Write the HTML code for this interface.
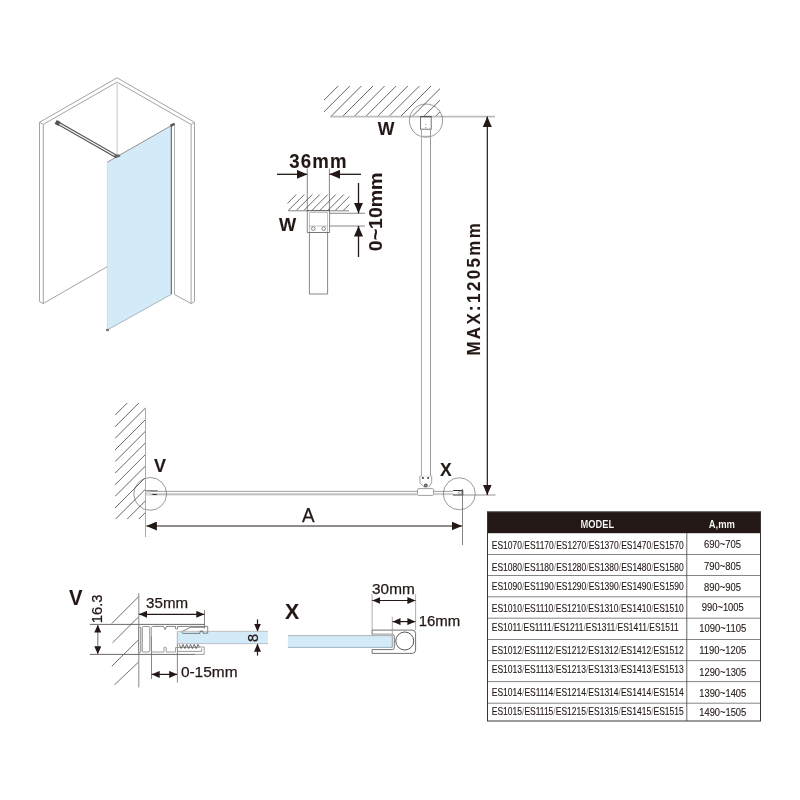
<!DOCTYPE html>
<html><head><meta charset="utf-8">
<style>
html,body{margin:0;padding:0;background:#fff;width:800px;height:800px;overflow:hidden}
svg{display:block;position:absolute;left:0;top:0;will-change:transform}
text{font-family:"Liberation Sans",sans-serif;fill:#231815;stroke:#231815;stroke-width:0.25px}
.b{font-weight:bold;stroke-width:0.1px}
.t{stroke-width:0.12px}
</style></head><body>
<svg width="800" height="800" viewBox="0 0 800 800">
<defs>
<marker id="ah" viewBox="0 0 10.5 9" refX="10.5" refY="4.5" markerWidth="10.5" markerHeight="9" markerUnits="userSpaceOnUse" orient="auto-start-reverse"><path d="M0,0 L10.5,4.5 L0,9 Z" fill="#231815"/></marker>
<clipPath id="cc1"><rect x="324" y="86" width="116" height="30.5"/></clipPath>
<clipPath id="cc2"><rect x="115" y="403" width="30.5" height="116"/></clipPath>
<clipPath id="cc3"><rect x="287.5" y="194.5" width="62" height="16.3"/></clipPath>
<marker id="ah2" viewBox="0 0 8 7" refX="8" refY="3.5" markerWidth="8" markerHeight="7" markerUnits="userSpaceOnUse" orient="auto-start-reverse"><path d="M0,0 L8,3.5 L0,7 Z" fill="#231815"/></marker>
</defs>

<!-- ============ ISOMETRIC ============ -->
<g fill="none" stroke="#999" stroke-width="0.9">
  <polyline points="39.5,301.5 39.5,122.3 117.1,77.8 194.5,122.3 194.5,301.5"/>
  <polyline points="39.5,122.3 43.3,124.4 117.1,82.1 191.1,124.5 194.5,122.3"/>
  <line x1="43.3" y1="124.4" x2="43.3" y2="303.5"/>
  <line x1="191.1" y1="124.5" x2="191.1" y2="303.5"/>
  <polyline points="39.5,301.5 43.3,303.5 107.5,266.5"/>
  <polyline points="174.5,294.5 191.1,303.5 194.5,301.5"/>
  <line x1="174.5" y1="125.5" x2="174.5" y2="294.5" stroke="#aaa"/>
</g>
<line x1="117.1" y1="82.1" x2="117.1" y2="156.5" stroke="#ccc" stroke-width="1.1"/>
<polygon points="107.3,162.2 171.3,125.6 171.3,294.3 107.3,330" fill="#d3ebf8"/>
<line x1="107.3" y1="162.2" x2="171.3" y2="125.6" stroke="#777" stroke-width="0.8"/>
<line x1="107.3" y1="162.2" x2="107.3" y2="330" stroke="#b8cfdc" stroke-width="0.6"/>
<line x1="171.3" y1="125.6" x2="171.3" y2="294.3" stroke="#555" stroke-width="1"/>
<line x1="107.3" y1="330" x2="171.3" y2="294.3" stroke="#8a9aa5" stroke-width="0.7"/>
<!-- rod -->
<line x1="57.5" y1="122.8" x2="116" y2="156.2" stroke="#4a4a4a" stroke-width="3.3" stroke-linecap="round"/>
<line x1="58.5" y1="123.4" x2="115" y2="155.6" stroke="#eaeaea" stroke-width="1.3"/>
<rect x="-2.2" y="-2.2" width="4.4" height="4.4" fill="#555" transform="translate(57.6,122.9) rotate(30)"/>
<path d="M114,154.5 L119.5,154.5 L120.5,156.5 L116,158 Z" fill="#666"/>
<ellipse cx="107.5" cy="330" rx="1.7" ry="1.3" fill="#777"/>
<path d="M170,124.5 L174.5,122.8 L175,125 L171,127 Z" fill="#555"/>

<!-- ============ W DETAIL ============ -->
<g clip-path="url(#cc3)" stroke="#444" stroke-width="0.8">
  <path d="M280,210.8 l30,-30 M288,210.8 l30,-30 M296,210.8 l30,-30 M303.5,210.8 l30,-30 M311.5,210.8 l30,-30 M319.5,210.8 l30,-30 M327.5,210.8 l30,-30 M335,210.8 l30,-30 M343,210.8 l30,-30"/>
</g>
<line x1="288" y1="210.8" x2="349" y2="210.8" stroke="#888" stroke-width="1"/>
<g fill="none" stroke="#555" stroke-width="0.7">
  <line x1="307.3" y1="168.5" x2="307.3" y2="210.5"/>
  <line x1="329.4" y1="168.5" x2="329.4" y2="210.5"/>
  <rect x="307.2" y="210.5" width="22.5" height="22"/>
  <rect x="309.5" y="212.5" width="18" height="20" stroke-dasharray="1,1"/>
  <line x1="309.5" y1="226" x2="327.5" y2="226" stroke-dasharray="1,1"/>
  <circle cx="313.3" cy="228.6" r="1.8"/>
  <circle cx="323.7" cy="228.6" r="1.8"/>
  <line x1="309.4" y1="232.5" x2="309.4" y2="294"/>
  <line x1="327.6" y1="232.5" x2="327.6" y2="294"/>
  <line x1="309.4" y1="294" x2="327.6" y2="294"/>
  <line x1="329.7" y1="213.3" x2="365" y2="213.3"/>
  <line x1="329.7" y1="226" x2="365" y2="226"/>
</g>
<g stroke="#231815" stroke-width="1.3" fill="none">
  <line x1="277" y1="174.3" x2="307.2" y2="174.3" marker-end="url(#ah)"/>
  <line x1="361" y1="174.3" x2="329.5" y2="174.3" marker-end="url(#ah)"/>
  <line x1="358.5" y1="183" x2="358.5" y2="213.3" marker-end="url(#ah)"/>
  <line x1="358.5" y1="257" x2="358.5" y2="226" marker-end="url(#ah)"/>
</g>
<text class="b" font-size="19.6" transform="translate(289.2,167.6) scale(0.95,1)" textLength="60.3" lengthAdjust="spacing">36mm</text>
<text class="b" x="279" y="231" font-size="18.5" textLength="17.2" lengthAdjust="spacingAndGlyphs">W</text>
<text class="b" font-size="19.2" transform="translate(382,251.2) rotate(-90)" textLength="78.6" lengthAdjust="spacingAndGlyphs">0~10mm</text>

<!-- ============ ELEVATION ============ -->
<g clip-path="url(#cc1)" stroke="#4a4a4a" stroke-width="0.85">
  <path id="hatch1" d="M307.7,116.5 l31,-31 M319.3,116.5 l31,-31 M330.9,116.5 l31,-31 M342.5,116.5 l31,-31 M354.1,116.5 l31,-31 M365.7,116.5 l31,-31 M377.3,116.5 l31,-31 M388.9,116.5 l31,-31 M400.5,116.5 l31,-31 M412.1,116.5 l31,-31 M423.7,116.5 l31,-31 M435.3,116.5 l31,-31"/>
</g>
<line x1="330" y1="116.6" x2="495" y2="116.6" stroke="#bdbdbd" stroke-width="1.7"/>
<circle cx="426" cy="120.6" r="16.6" fill="none" stroke="#555" stroke-width="0.6"/>
<rect x="420.6" y="116.8" width="10.6" height="12.4" fill="#fff" stroke="#666" stroke-width="0.9"/>
<line x1="420.3" y1="116.6" x2="431.5" y2="116.6" stroke="#555" stroke-width="1.2"/>
<line x1="421.5" y1="136.3" x2="430.5" y2="136.3" stroke="#999" stroke-width="0.8"/>
<circle cx="425.8" cy="124.5" r="0.55" fill="#777"/><circle cx="425.8" cy="127.6" r="0.55" fill="#777"/>
<line x1="421.5" y1="128.8" x2="421.5" y2="476" stroke="#aaa" stroke-width="1"/>
<line x1="430.5" y1="128.8" x2="430.5" y2="476" stroke="#999" stroke-width="1"/>
<g fill="none" stroke="#888" stroke-width="0.8">
  <path d="M421.5,476 L419.9,476.1 L419.9,482.7 L424.2,487.3 M430.5,476 L431.7,476.1 L431.7,482.7 L428.6,487.3"/>
  <line x1="419.9" y1="476.1" x2="431.7" y2="476.1" stroke="#ddd"/>
  <rect x="417.5" y="488.6" width="16.1" height="6.8" rx="1.2" stroke="#888"/>
</g>
<circle cx="422.9" cy="477.9" r="0.95" fill="#231815"/>
<circle cx="428.2" cy="477.9" r="0.95" fill="#231815"/>
<circle cx="425.8" cy="485.5" r="1.9" fill="#555"/>
<circle cx="425.8" cy="485.5" r="0.8" fill="#aaa"/>
<g>
  <line x1="146" y1="491.4" x2="417.5" y2="491.4" stroke="#888" stroke-width="0.8"/>
  <rect x="146" y="493.1" width="271.5" height="2" fill="#ccc"/>
  <line x1="146" y1="495" x2="417.5" y2="495" stroke="#aaa" stroke-width="0.5"/>
  <line x1="433.6" y1="491.4" x2="453" y2="491.4" stroke="#888" stroke-width="0.8"/>
  <rect x="433.6" y="493.1" width="20" height="2" fill="#ccc"/>
</g>
<path d="M453.1,490.5 L462.7,490.5 L462.7,495 L453.1,495" fill="none" stroke="#333" stroke-width="1.1"/>
<circle cx="460.1" cy="492.6" r="1.6" fill="#fff" stroke="#555" stroke-width="0.6"/>
<circle cx="459.3" cy="493.8" r="16" fill="none" stroke="#555" stroke-width="0.6"/>
<circle cx="150.2" cy="493.9" r="16.4" fill="none" stroke="#555" stroke-width="0.6"/>
<rect x="145.6" y="490.7" width="4" height="4.3" fill="#ddd"/>
<line x1="145.5" y1="490.7" x2="157.6" y2="490.7" stroke="#666" stroke-width="0.9"/>
<line x1="152.4" y1="494.5" x2="156.9" y2="494.5" stroke="#333" stroke-width="1"/>
<!-- V wall -->
<g clip-path="url(#cc2)" stroke="#4a4a4a" stroke-width="0.85">
  <path d="M115,415.25 l31,-31 M115,426.85 l31,-31 M115,438.45 l31,-31 M115,450.05 l31,-31 M115,461.65 l31,-31 M115,473.25 l31,-31 M115,484.85 l31,-31 M115,496.45 l31,-31 M115,508.05 l31,-31 M115,519.65 l31,-31 M115,531.25 l31,-31 M115,542.85 l31,-31"/>
</g>
<line x1="145.5" y1="408.5" x2="145.5" y2="537" stroke="#aaa" stroke-width="1"/>
<line x1="462.5" y1="489" x2="462.5" y2="545" stroke="#666" stroke-width="0.8"/>
<line x1="462" y1="495" x2="495.5" y2="495" stroke="#666" stroke-width="0.7"/>
<g stroke="#231815" stroke-width="1.2" fill="none">
  <line x1="146.4" y1="526" x2="462" y2="526" marker-start="url(#ah)" marker-end="url(#ah)"/>
  <line x1="487.3" y1="116.5" x2="487.3" y2="495" marker-start="url(#ah)" marker-end="url(#ah)"/>
</g>
<text class="b" x="377.7" y="135.3" font-size="18" textLength="16.7" lengthAdjust="spacingAndGlyphs">W</text>
<text class="b" font-size="19.2" transform="translate(480.3,355.6) rotate(-90) scale(0.88,1)" textLength="150.3" lengthAdjust="spacing">MAX:1205mm</text>
<text class="b" x="154" y="472" font-size="18" textLength="12" lengthAdjust="spacingAndGlyphs">V</text>
<text class="b" x="440" y="475.8" font-size="18" textLength="11.7" lengthAdjust="spacingAndGlyphs">X</text>
<text x="302" y="521.6" font-size="20" textLength="12.6" lengthAdjust="spacingAndGlyphs">A</text>

<!-- ============ V DETAIL ============ -->
<text class="b" x="68.9" y="605.4" font-size="22" textLength="13.5" lengthAdjust="spacingAndGlyphs">V</text>
<text font-size="15.5" transform="translate(102.1,623.2) rotate(-90)" textLength="28.6" lengthAdjust="spacingAndGlyphs">16.3</text>
<text x="146.1" y="608" font-size="15.5" textLength="42" lengthAdjust="spacingAndGlyphs">35mm</text>
<text x="180.9" y="676.6" font-size="14.6" textLength="56.6" lengthAdjust="spacingAndGlyphs">0-15mm</text>

<!-- ============ X DETAIL ============ -->
<text class="b" x="285.1" y="619.3" font-size="22.3" textLength="14.2" lengthAdjust="spacingAndGlyphs">X</text>
<text x="372.1" y="593.7" font-size="14.5" textLength="42.6" lengthAdjust="spacingAndGlyphs">30mm</text>
<text x="418.7" y="626" font-size="14.5" textLength="41.6" lengthAdjust="spacingAndGlyphs">16mm</text>

<!-- V detail geometry -->
<g stroke="#555" stroke-width="0.85" fill="none">
  <line x1="111.8" y1="623.5" x2="138.6" y2="596.7"/>
  <line x1="112.5" y1="642.8" x2="138.6" y2="616.9"/>
  <line x1="111.8" y1="666.2" x2="138.6" y2="639.7"/>
  <line x1="114.6" y1="684.7" x2="138.6" y2="662"/>
</g>
<line x1="138.8" y1="593.2" x2="138.8" y2="687.5" stroke="#888" stroke-width="1"/>
<line x1="89.8" y1="624.4" x2="204.5" y2="624.4" stroke="#5a5a5a" stroke-width="0.9"/>
<line x1="89.8" y1="654.4" x2="195" y2="654.4" stroke="#5a5a5a" stroke-width="0.9"/>
<line x1="204.5" y1="610" x2="204.5" y2="628.5" stroke="#555" stroke-width="0.7"/>
<line x1="151.5" y1="636.5" x2="151.5" y2="679" stroke="#555" stroke-width="0.7"/>
<line x1="177.4" y1="643.5" x2="177.4" y2="682.5" stroke="#555" stroke-width="0.7"/>
<g stroke="#231815" stroke-width="1.2" fill="none">
  <line x1="97.8" y1="624.6" x2="97.8" y2="654.2" stroke="#888" marker-start="url(#ah2)" marker-end="url(#ah2)"/>
  <line x1="139" y1="614.3" x2="204.3" y2="614.3" marker-start="url(#ah2)" marker-end="url(#ah2)"/>
  <line x1="151.7" y1="674.4" x2="177.2" y2="674.4" marker-start="url(#ah2)" marker-end="url(#ah2)"/>
  <line x1="257.5" y1="619.4" x2="257.5" y2="631.5" marker-end="url(#ah2)"/>
  <line x1="257.5" y1="655.6" x2="257.5" y2="643.75" marker-end="url(#ah2)"/>
</g>
<!-- profile -->
<g stroke="#777" stroke-width="0.8" fill="none">
  <rect x="138.5" y="627" width="2.3" height="25.5" rx="1.1" fill="#e4e4e4"/>
  <rect x="142.3" y="626.5" width="7.5" height="25.5" rx="1"/>
  <path d="M153,626.4 L163.7,626.4 L165.1,629.7 L166.5,626.4 L175.5,626.4 L175.5,628.6 Q176.5,629.6 177.5,628.6 L177.5,626.4 L207.7,626.4 L207.7,633.2 L203,633.2 L203,631.3 L200,631.3 L200,633.4 L183,633.4 Q181.8,633 182,631.6 L190.5,627.3 L204.5,627.3" stroke="#666"/>
  <path d="M153,626.4 Q151.3,626.4 151.3,628.4 L151.3,650 Q151.3,652 153,652 L164,652 L164,647.6 Q165.1,646.8 166.2,647.6 L166.2,652 L175.5,652 L175.5,647.6 L177.5,647.4 L199,647.4 L199.5,647 L204.2,647 L204.2,654.4 L195,654.4" stroke="#888"/>
  <path d="M177.5,648.6 L177.5,651.4 L201.6,651.4 L201.6,648.6" stroke="#999" stroke-width="1"/>
</g>
<rect x="177.4" y="631.3" width="90.6" height="12.3" fill="#d3ebf8"/>
<line x1="177.4" y1="631.3" x2="268" y2="631.3" stroke="#aaa" stroke-width="0.7"/>
<line x1="177.4" y1="643.6" x2="268" y2="643.6" stroke="#aab" stroke-width="0.7"/>
<line x1="177.3" y1="631.3" x2="177.3" y2="643.6" stroke="#999" stroke-width="0.7"/>
<path d="M207.7,631.3 L207.7,633.2 L203,633.2 L203,631.3 L200,631.3 L200,633.4 L183,633.4 Q181.8,633 182,631.6" fill="none" stroke="#666" stroke-width="0.8"/>
<polyline points="179.30,644.4 181.17,648.6 183.04,644.4 184.91,648.6 186.78,644.4 188.65,648.6 190.52,644.4 192.39,648.6 194.26,644.4 196.13,648.6 198.00,644.4 199.5,647.2" fill="none" stroke="#555" stroke-width="0.85"/>

<!-- X detail geometry -->
<rect x="287.9" y="635.6" width="104.5" height="11.8" fill="#d3ebf8"/>
<line x1="287.9" y1="635.6" x2="392.4" y2="635.6" stroke="#aaa" stroke-width="0.9"/>
<line x1="287.9" y1="647.4" x2="392.4" y2="647.4" stroke="#9ab" stroke-width="0.9"/>
<line x1="392.3" y1="635.6" x2="392.3" y2="647.4" stroke="#888" stroke-width="0.8"/>
<g fill="none" stroke="#5a5a5a" stroke-width="0.85">
  <path d="M372.1,634.6 L372.1,630.1 L412.2,630.1 Q415.6,630.1 415.6,633.5 L415.6,650 Q415.6,653.4 412.2,653.4 L372.1,653.4 L372.1,649.6 L392.5,649.6 Q394.3,649.6 394.3,647.8 L394.3,636.4 Q394.3,634.6 392.5,634.6 Z"/>
  <circle cx="404.75" cy="641" r="9" stroke="#3a3a3a"/>
  <line x1="372.1" y1="594" x2="372.1" y2="630.1" stroke-width="0.6" stroke="#777"/>
  <line x1="415.6" y1="594" x2="415.6" y2="630.1" stroke-width="0.6" stroke="#777"/>
  <line x1="392.3" y1="616.8" x2="392.3" y2="634.6" stroke-width="0.6" stroke="#777"/>
</g>
<rect x="372.5" y="633.4" width="20" height="2.2" fill="#bbb"/>
<g stroke="#231815" stroke-width="1.2" fill="none">
  <line x1="372.3" y1="600.5" x2="415.4" y2="600.5" marker-start="url(#ah2)" marker-end="url(#ah2)"/>
  <line x1="392.5" y1="621.6" x2="415.4" y2="621.6" marker-start="url(#ah2)" marker-end="url(#ah2)"/>
</g>

<!-- TABLE -->
<rect x="487" y="511.6" width="274" height="21.6" fill="#231815"/>
<g fill="none">
  <line x1="487.5" y1="554.5" x2="760.5" y2="554.5" stroke="#777" stroke-width="0.9"/>
  <line x1="487.5" y1="575.5" x2="760.5" y2="575.5" stroke="#777" stroke-width="0.9"/>
  <line x1="487.5" y1="596.8" x2="760.5" y2="596.8" stroke="#777" stroke-width="0.9"/>
  <line x1="487.5" y1="618.2" x2="760.5" y2="618.2" stroke="#777" stroke-width="0.9"/>
  <line x1="487.5" y1="639.5" x2="760.5" y2="639.5" stroke="#777" stroke-width="0.9"/>
  <line x1="487.5" y1="660.6" x2="760.5" y2="660.6" stroke="#777" stroke-width="0.9"/>
  <line x1="487.5" y1="681.6" x2="760.5" y2="681.6" stroke="#777" stroke-width="0.9"/>
  <line x1="487.5" y1="703.2" x2="760.5" y2="703.2" stroke="#777" stroke-width="0.9"/>
  <line x1="686.8" y1="533" x2="686.8" y2="721" stroke="#555" stroke-width="0.9"/>
  <rect x="487.5" y="512" width="273" height="209" stroke="#3a3533" stroke-width="1"/>
</g>
<text class="b" x="580.5" y="527.8" font-size="10" fill="#fff" style="fill:#fff" textLength="33.7" lengthAdjust="spacingAndGlyphs">MODEL</text>
<text class="b" x="708.8" y="527.8" font-size="10" style="fill:#fff" textLength="26.2" lengthAdjust="spacingAndGlyphs">A,mm</text>
<text class="t" x="491.8" y="549" font-size="10.2" textLength="191.95" lengthAdjust="spacingAndGlyphs">ES1070<tspan style="fill:#888;stroke:none">/</tspan>ES1170<tspan style="fill:#888;stroke:none">/</tspan>ES1270<tspan style="fill:#888;stroke:none">/</tspan>ES1370<tspan style="fill:#888;stroke:none">/</tspan>ES1470<tspan style="fill:#888;stroke:none">/</tspan>ES1570</text>
<text class="t" x="704" y="547.5" font-size="10.5" textLength="37.00" lengthAdjust="spacingAndGlyphs">690~705</text>
<text class="t" x="491.8" y="570.5" font-size="10.2" textLength="191.95" lengthAdjust="spacingAndGlyphs">ES1080<tspan style="fill:#888;stroke:none">/</tspan>ES1180<tspan style="fill:#888;stroke:none">/</tspan>ES1280<tspan style="fill:#888;stroke:none">/</tspan>ES1380<tspan style="fill:#888;stroke:none">/</tspan>ES1480<tspan style="fill:#888;stroke:none">/</tspan>ES1580</text>
<text class="t" x="704" y="569.5" font-size="10.5" textLength="37.00" lengthAdjust="spacingAndGlyphs">790~805</text>
<text class="t" x="491.8" y="589.8" font-size="10.2" textLength="191.95" lengthAdjust="spacingAndGlyphs">ES1090<tspan style="fill:#888;stroke:none">/</tspan>ES1190<tspan style="fill:#888;stroke:none">/</tspan>ES1290<tspan style="fill:#888;stroke:none">/</tspan>ES1390<tspan style="fill:#888;stroke:none">/</tspan>ES1490<tspan style="fill:#888;stroke:none">/</tspan>ES1590</text>
<text class="t" x="704" y="590.5" font-size="10.5" textLength="37.00" lengthAdjust="spacingAndGlyphs">890~905</text>
<text class="t" x="491.8" y="611.9" font-size="10.2" textLength="191.95" lengthAdjust="spacingAndGlyphs">ES1010<tspan style="fill:#888;stroke:none">/</tspan>ES1110<tspan style="fill:#888;stroke:none">/</tspan>ES1210<tspan style="fill:#888;stroke:none">/</tspan>ES1310<tspan style="fill:#888;stroke:none">/</tspan>ES1410<tspan style="fill:#888;stroke:none">/</tspan>ES1510</text>
<text class="t" x="701.75" y="610.5" font-size="10.5" textLength="42.00" lengthAdjust="spacingAndGlyphs">990~1005</text>
<text class="t" x="491.8" y="631" font-size="10.2" textLength="186.95" lengthAdjust="spacingAndGlyphs">ES1011<tspan style="fill:#888;stroke:none">/</tspan>ES1111<tspan style="fill:#888;stroke:none">/</tspan>ES1211<tspan style="fill:#888;stroke:none">/</tspan>ES1311<tspan style="fill:#888;stroke:none">/</tspan>ES1411<tspan style="fill:#888;stroke:none">/</tspan>ES1511</text>
<text class="t" x="699.25" y="632" font-size="10.5" textLength="47.00" lengthAdjust="spacingAndGlyphs">1090~1105</text>
<text class="t" x="491.8" y="654" font-size="10.2" textLength="191.95" lengthAdjust="spacingAndGlyphs">ES1012<tspan style="fill:#888;stroke:none">/</tspan>ES1112<tspan style="fill:#888;stroke:none">/</tspan>ES1212<tspan style="fill:#888;stroke:none">/</tspan>ES1312<tspan style="fill:#888;stroke:none">/</tspan>ES1412<tspan style="fill:#888;stroke:none">/</tspan>ES1512</text>
<text class="t" x="699.25" y="653.75" font-size="10.5" textLength="47.00" lengthAdjust="spacingAndGlyphs">1190~1205</text>
<text class="t" x="491.8" y="673.4" font-size="10.2" textLength="191.95" lengthAdjust="spacingAndGlyphs">ES1013<tspan style="fill:#888;stroke:none">/</tspan>ES1113<tspan style="fill:#888;stroke:none">/</tspan>ES1213<tspan style="fill:#888;stroke:none">/</tspan>ES1313<tspan style="fill:#888;stroke:none">/</tspan>ES1413<tspan style="fill:#888;stroke:none">/</tspan>ES1513</text>
<text class="t" x="699.25" y="675.5" font-size="10.5" textLength="47.00" lengthAdjust="spacingAndGlyphs">1290~1305</text>
<text class="t" x="491.8" y="695.7" font-size="10.2" textLength="191.95" lengthAdjust="spacingAndGlyphs">ES1014<tspan style="fill:#888;stroke:none">/</tspan>ES1114<tspan style="fill:#888;stroke:none">/</tspan>ES1214<tspan style="fill:#888;stroke:none">/</tspan>ES1314<tspan style="fill:#888;stroke:none">/</tspan>ES1414<tspan style="fill:#888;stroke:none">/</tspan>ES1514</text>
<text class="t" x="699.25" y="697" font-size="10.5" textLength="47.00" lengthAdjust="spacingAndGlyphs">1390~1405</text>
<text class="t" x="491.8" y="715" font-size="10.2" textLength="191.95" lengthAdjust="spacingAndGlyphs">ES1015<tspan style="fill:#888;stroke:none">/</tspan>ES1115<tspan style="fill:#888;stroke:none">/</tspan>ES1215<tspan style="fill:#888;stroke:none">/</tspan>ES1315<tspan style="fill:#888;stroke:none">/</tspan>ES1415<tspan style="fill:#888;stroke:none">/</tspan>ES1515</text>
<text class="t" x="699.25" y="716.25" font-size="10.5" textLength="47.00" lengthAdjust="spacingAndGlyphs">1490~1505</text>

<text font-size="14.6" transform="translate(257.5,642) rotate(-90)">8</text>
</svg>
</body></html>
